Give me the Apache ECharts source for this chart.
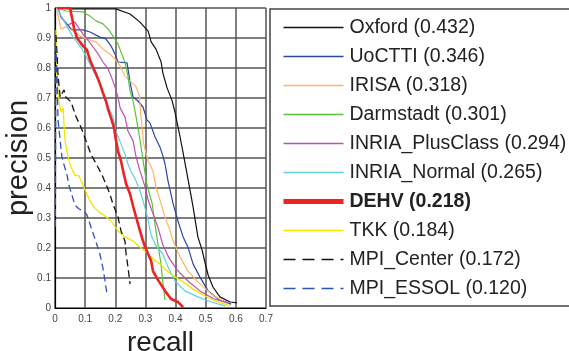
<!DOCTYPE html>
<html>
<head>
<meta charset="utf-8">
<script src="https://cdn.jsdelivr.net/npm/echarts@6/dist/echarts.min.js"></script>
<style>
  html, body { margin: 0; padding: 0; background: #fff; }
  #chart { width: 569px; height: 351px; }
</style>
</head>
<body>
<div id="chart"></div>
<script>
// Precision-recall curves, [recall, precision] pairs per method
const oxford = [[0.007,1.0],[0.05,0.997],[0.202,0.997],[0.249,0.98],[0.282,0.953],[0.309,0.923],[0.319,0.887],[0.335,0.863],[0.352,0.82],[0.358,0.783],[0.372,0.733],[0.388,0.693],[0.398,0.653],[0.415,0.57],[0.425,0.517],[0.448,0.393],[0.458,0.337],[0.474,0.237],[0.488,0.193],[0.498,0.15],[0.508,0.11],[0.524,0.07],[0.547,0.037],[0.581,0.02],[0.604,0.017]];
const uoctti = [[0.01,1.0],[0.02,0.97],[0.056,0.927],[0.093,0.927],[0.116,0.92],[0.149,0.903],[0.169,0.897],[0.186,0.873],[0.199,0.847],[0.209,0.82],[0.239,0.817],[0.249,0.753],[0.259,0.703],[0.275,0.69],[0.292,0.67],[0.305,0.627],[0.315,0.617],[0.332,0.57],[0.348,0.537],[0.358,0.507],[0.365,0.48],[0.375,0.423],[0.392,0.347],[0.408,0.29],[0.425,0.237],[0.441,0.203],[0.458,0.147],[0.481,0.103],[0.508,0.057],[0.541,0.03],[0.584,0.013]];
const irisa = [[0.005,1.0],[0.02,0.93],[0.036,0.937],[0.06,0.923],[0.083,0.907],[0.103,0.897],[0.136,0.887],[0.159,0.863],[0.182,0.847],[0.199,0.83],[0.216,0.807],[0.232,0.773],[0.249,0.757],[0.269,0.737],[0.28,0.707],[0.284,0.65],[0.288,0.613],[0.294,0.547],[0.309,0.49],[0.325,0.457],[0.335,0.403],[0.352,0.347],[0.365,0.303],[0.382,0.257],[0.392,0.223],[0.415,0.17],[0.441,0.123],[0.474,0.087],[0.518,0.047],[0.574,0.013]];
const darmstadt = [[0.007,1.0],[0.036,0.99],[0.093,0.987],[0.116,0.973],[0.136,0.957],[0.159,0.947],[0.176,0.93],[0.192,0.907],[0.209,0.88],[0.219,0.853],[0.232,0.82],[0.242,0.773],[0.249,0.723],[0.259,0.69],[0.269,0.637],[0.282,0.56],[0.292,0.493],[0.305,0.41],[0.322,0.35],[0.332,0.277],[0.342,0.21],[0.352,0.143],[0.358,0.083],[0.365,0.027]];
const inriaPlus = [[0.02,0.97],[0.04,0.943],[0.066,0.953],[0.093,0.913],[0.119,0.88],[0.143,0.847],[0.159,0.82],[0.176,0.797],[0.186,0.773],[0.199,0.737],[0.209,0.703],[0.216,0.667],[0.232,0.637],[0.242,0.59],[0.259,0.557],[0.269,0.503],[0.282,0.457],[0.299,0.403],[0.309,0.36],[0.322,0.323],[0.342,0.267],[0.358,0.21],[0.378,0.167],[0.405,0.127],[0.441,0.09],[0.481,0.057],[0.528,0.03],[0.574,0.017]];
const inriaNormal = [[0.007,1.0],[0.017,0.98],[0.027,0.963],[0.043,0.933],[0.06,0.903],[0.083,0.873],[0.103,0.84],[0.119,0.807],[0.136,0.773],[0.149,0.747],[0.159,0.713],[0.173,0.68],[0.192,0.637],[0.202,0.59],[0.219,0.547],[0.232,0.513],[0.242,0.48],[0.252,0.457],[0.269,0.423],[0.282,0.39],[0.292,0.357],[0.305,0.31],[0.319,0.243],[0.335,0.207],[0.358,0.18],[0.375,0.137],[0.398,0.09],[0.431,0.057],[0.474,0.037],[0.518,0.02],[0.564,0.007]];
const dehv = [[0.007,1.0],[0.05,1.0],[0.056,0.97],[0.063,0.933],[0.073,0.9],[0.093,0.873],[0.106,0.86],[0.116,0.827],[0.126,0.803],[0.139,0.773],[0.149,0.747],[0.159,0.717],[0.169,0.69],[0.176,0.663],[0.186,0.633],[0.196,0.6],[0.202,0.56],[0.209,0.523],[0.219,0.49],[0.226,0.457],[0.236,0.413],[0.249,0.38],[0.259,0.34],[0.269,0.303],[0.282,0.257],[0.289,0.233],[0.299,0.203],[0.309,0.18],[0.319,0.157],[0.325,0.123],[0.342,0.093],[0.355,0.073],[0.368,0.053],[0.385,0.03],[0.408,0.02],[0.425,0.003]];
const tkk = [[0.003,0.927],[0.007,0.76],[0.013,0.693],[0.02,0.653],[0.027,0.667],[0.03,0.61],[0.033,0.56],[0.04,0.52],[0.046,0.493],[0.053,0.47],[0.066,0.443],[0.08,0.44],[0.093,0.41],[0.103,0.387],[0.116,0.357],[0.129,0.337],[0.146,0.32],[0.166,0.307],[0.186,0.29],[0.209,0.257],[0.232,0.237],[0.259,0.223],[0.282,0.203],[0.309,0.18],[0.325,0.163],[0.348,0.147],[0.365,0.13],[0.392,0.107],[0.425,0.087],[0.458,0.063],[0.498,0.04],[0.534,0.023],[0.581,0.007]];
const mpiCenter = [[0.003,0.91],[0.007,0.843],[0.01,0.777],[0.017,0.703],[0.03,0.727],[0.036,0.703],[0.053,0.687],[0.07,0.637],[0.086,0.603],[0.103,0.557],[0.119,0.513],[0.133,0.487],[0.149,0.457],[0.159,0.437],[0.169,0.413],[0.182,0.38],[0.192,0.347],[0.209,0.303],[0.219,0.257],[0.232,0.223],[0.236,0.18],[0.242,0.137],[0.249,0.08]];
const mpiEssol = [[0.001,0.27],[0.003,0.87],[0.007,0.76],[0.01,0.627],[0.017,0.56],[0.023,0.503],[0.03,0.477],[0.04,0.443],[0.046,0.41],[0.056,0.377],[0.066,0.343],[0.08,0.33],[0.096,0.323],[0.106,0.31],[0.116,0.28],[0.126,0.25],[0.136,0.22],[0.149,0.18],[0.159,0.133],[0.166,0.09],[0.173,0.043]];

const methodNames = ['Oxford (0.432)','UoCTTI (0.346)','IRISA (0.318)','Darmstadt (0.301)','INRIA_PlusClass (0.294)','INRIA_Normal (0.265)','DEHV (0.218)','TKK (0.184)','MPI_Center (0.172)','MPI_ESSOL (0.120)'];
const methodData = [oxford, uoctti, irisa, darmstadt, inriaPlus, inriaNormal, dehv, tkk, mpiCenter, mpiEssol];
const colors = ['#111111','#2b45a6','#ffb366','#5bc23c','#c04eb0','#5fcfe0','#ee2222','#f2e600','#111111','#2f52b8'];
const widths = [1.2,1.2,1.2,1.2,1.2,1.2,2.6,1.3,1.3,1.3];
const dashed = [false,false,false,false,false,false,false,false,true,true];

const chart = echarts.init(document.getElementById('chart'), null, { renderer: 'canvas' });

const series = methodNames.map((name, i) => ({
  name: name,
  type: 'line',
  data: methodData[i],
  symbol: 'none',
  showSymbol: false,
  animation: false,
  z: i === 6 ? 5 : 3,
  lineStyle: {
    color: colors[i],
    width: widths[i],
    type: dashed[i] ? [7, 4] : 'solid'
  },
  itemStyle: { color: colors[i] }
}));

const legendData = methodNames.map((name, i) => ({
  name: name,
  itemStyle: { opacity: 0 },
  lineStyle: {
    color: colors[i],
    width: i === 6 ? 5 : 1.6,
    type: dashed[i] ? [12, 7] : 'solid',
    opacity: 1
  },
  textStyle: i === 6 ? { fontWeight: 'bold' } : {}
}));

chart.setOption({
  backgroundColor: '#ffffff',
  animation: false,
  grid: { left: 55, top: 8, width: 211, height: 300, containLabel: false, outerBoundsMode: 'none' },
  xAxis: {
    type: 'value', min: 0, max: 0.7, interval: 0.1,
    name: 'recall', nameLocation: 'middle', nameGap: 12,
    nameTextStyle: { fontFamily: 'Liberation Sans', fontSize: 28, color: '#222' },
    axisLine: { show: true, lineStyle: { color: '#000', width: 1.2 } },
    axisTick: { show: false },
    axisLabel: { margin: 6, fontFamily: 'Liberation Sans', fontSize: 10, color: '#444' },
    splitLine: { show: true, lineStyle: { color: '#555', width: 1.5 } }
  },
  yAxis: {
    type: 'value', min: 0, max: 1, interval: 0.1,
    name: 'precision', nameLocation: 'middle', nameGap: 14, nameRotate: 90,
    nameTextStyle: { fontFamily: 'Liberation Sans', fontSize: 29, color: '#222' },
    axisLine: { show: true, lineStyle: { color: '#000', width: 1.2 } },
    axisTick: { show: false },
    axisLabel: { margin: 4, fontFamily: 'Liberation Sans', fontSize: 10, color: '#444' },
    splitLine: { show: true, lineStyle: { color: '#555', width: 1.5 } }
  },
  legend: {
    orient: 'vertical',
    left: 281, top: 13, padding: 0,
    itemWidth: 60, itemHeight: 14, itemGap: 0,
    selectedMode: false,
    textStyle: { fontFamily: 'Liberation Sans', fontSize: 19.5, color: '#222', lineHeight: 29, padding: [0, 0, 0, 1] },
    data: legendData
  },
  graphic: [{
    type: 'rect',
    shape: { x: 270, y: 9, width: 310, height: 297 },
    style: { fill: 'none', stroke: '#444', lineWidth: 1.5 },
    z: 1, silent: true
  }],
  series: series
});
</script>
</body>
</html>
